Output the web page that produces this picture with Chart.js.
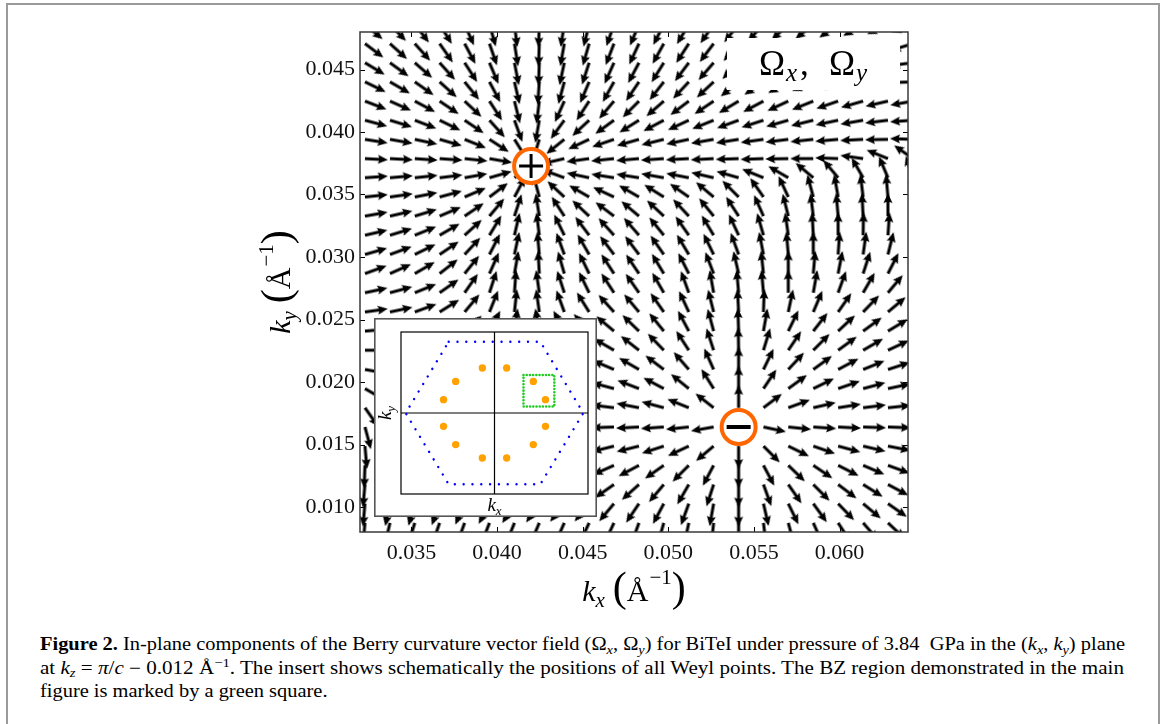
<!DOCTYPE html>
<html>
<head>
<meta charset="utf-8">
<title>Berry curvature vector field</title>
<script src="https://cdn.jsdelivr.net/npm/chart.js@4.4.1/dist/chart.umd.min.js"></script>
<style>
  html, body { margin: 0; padding: 0; background: #fff; }
  body { width: 1166px; height: 724px; position: relative; overflow: hidden; font-family: "Liberation Serif", serif; }
  #frame { position: absolute; left: 6px; top: 3px; width: 1150px; height: 760px; border: 2px solid #9a9a9a; border-bottom: none; }
  #main { position: absolute; left: 0; top: 0; }
  #inset { position: absolute; left: 374px; top: 318px; }
  #caption { position: absolute; left: 40px; top: 633px; font-size: 18px; line-height: 23.5px; color: #000; }
  #caption .ln { white-space: nowrap; transform-origin: 0 0; display: inline-block; }
  #caption sub, #caption sup { font-size: 70%; line-height: 0; position: relative; vertical-align: baseline; }
  #caption sub { top: 0.3em; }
  #caption sup { top: -0.5em; }
</style>
</head>
<body>
<div id="frame"></div>
<canvas id="main" width="1166" height="620"></canvas>
<canvas id="inset" width="223" height="199"></canvas>
<div id="caption">
  <div class="ln"><b>Figure 2.</b> In-plane components of the Berry curvature vector field (Ω<sub><i>x</i></sub>, Ω<sub><i>y</i></sub>) for BiTeI under pressure of 3.84&nbsp; GPa in the (<i>k</i><sub><i>x</i></sub>, <i>k</i><sub><i>y</i></sub>) plane</div><br>
  <div class="ln">at <i>k</i><sub><i>z</i></sub> = <i>π</i>/<i>c</i> − 0.012 Å<sup>−1</sup>. The insert shows schematically the positions of all Weyl points. The BZ region demonstrated in the main</div><br>
  <div class="ln">figure is marked by a green square.</div>
</div>
<script>
// grid of the quiver plot (arrow tails), in 1/Angstrom
const KX = [0.03229, 0.03375, 0.03520, 0.03665, 0.03811, 0.03956, 0.04102, 0.04247, 0.04393, 0.04538, 0.04683, 0.04829,
            0.04974, 0.05120, 0.05265, 0.05411, 0.05556, 0.05701, 0.05847, 0.05992, 0.06138, 0.06283, 0.06429];
const KY = [0.04861, 0.04707, 0.04554, 0.04401, 0.04247, 0.04094, 0.03941, 0.03787, 0.03634, 0.03480, 0.03327, 0.03174,
            0.03020, 0.02867, 0.02714, 0.02560, 0.02407, 0.02254, 0.02100, 0.01947, 0.01794, 0.01640, 0.01487, 0.01333,
            0.01180, 0.01027, 0.00873];

// direction of (Omega_x, Omega_y) in degrees, one row per KY
const ANG = [
  [-40,-46,-52,-58,-66,-74,-83,-92,-99,-104,-109,-113,-117,-121,-125,-129,-133,-137,-141,-145,-150,-155,-160],
  [-37,-42,-48,-55,-62,-71,-81,-92,-100,-106,-111,-115,-119,-123,-127,-131,-135,-139,-143,-148,-153,-158,-163],
  [-31,-36,-41,-48,-57,-67,-79,-92,-102,-108,-114,-118,-122,-127,-131,-135,-140,-145,-151,-157,-163,-169,-173],
  [-26,-30,-35,-42,-51,-62,-77,-94,-105,-113,-119,-124,-128,-133,-137,-141,-146,-151,-157,-163,-169,-175,-178],
  [-21,-24,-28,-34,-43,-57,-76,-97,-114,-123,-130,-135,-139,-143,-146,-149,-152,-155,-158,-161,-164,-167,-170],
  [-15,-17,-21,-26,-34,-48,-70,-100,-126,-137,-144,-148,-152,-155,-158,-160,-162,-164,-166,-168,-170,-173,-176],
  [-9,-10,-12,-16,-22,-33,-58,-107,-141,-155,-161,-164,-166,-168,-170,-171,-172,-173,-174,-175,-177,-179,178],
  [-3,-3,-4,-4,-6,-10,-24,-132,-167,-172,-174,-175,-176,-177,-177,-178,-178,-179,180,178,172,158,145],
  [4,5,6,7,10,16,35,125,160,168,171,171,170,169,167,164,158,150,140,130,120,113,108],
  [6,8,11,15,23,37,62,105,137,150,155,150,148,145,140,135,125,115,105,100,97,95,94],
  [10,13,17,23,34,50,72,99,123,137,143,140,137,133,129,123,114,104,97,95,93,90,88],
  [13,17,22,30,42,59,77,97,116,127,132,131,129,125,121,115,106,98,93,90,89,86,83],
  [16,20,26,34,47,63,78,95,110,120,127,127,125,121,116,110,101,95,90,86,82,76,70],
  [20,24,30,38,51,66,80,93,106,116,123,124,121,117,111,103,96,90,85,79,72,63,55],
  [12,15,22,35,55,72,86,98,108,116,123,125,120,110,100,95,95,90,80,70,60,50,45],
  [8,12,20,32,50,68,84,98,110,122,132,130,125,115,104,93,88,78,67,55,46,40,36],
  [5,8,14,25,42,62,82,100,118,132,140,136,129,118,105,92,80,64,52,43,36,31,28],
  [0,3,8,18,35,58,82,105,127,142,150,142,134,123,108,91,73,56,45,36,30,25,22],
  [-10,-6,0,10,25,50,85,115,140,152,157,150,143,131,114,90,64,47,36,28,22,18,15],
  [-30,-25,-18,-5,15,50,100,140,158,163,165,159,152,141,122,90,56,36,26,19,15,12,10],
  [-55,-52,-48,-40,-20,20,150,170,175,175,173,169,165,158,142,90,37,20,13,9,7,6,5],
  [-75,-78,-82,-90,-110,-140,-165,-172,-175,-177,-178,-177,-176,-174,-170,null,-12,-6,-4,-3,-2,-2,-2],
  [-85,-90,-95,-105,-120,-140,-155,-163,-167,-168,-166,-166,-162,-155,-140,-90,-45,-26,-19,-15,-13,-11,-10],
  [-92,-97,-102,-110,-120,-132,-142,-150,-154,-156,-156,-152,-145,-135,-118,-90,-62,-44,-34,-27,-23,-20,-18],
  [-95,-100,-105,-110,-117,-125,-132,-138,-142,-144,-145,-138,-130,-120,-108,-90,-70,-55,-45,-37,-32,-28,-25],
  [-95,-102,-106,-110,-114,-118,-122,-125,-128,-129,-130,-124,-118,-110,-100,-90,-77,-64,-54,-46,-40,-35,-32],
  [-95,-103,-107,-109,-110,-111,-112,-113,-114,-115,-115,-110,-106,-102,-96,-90,-83,-75,-66,-57,-49,-43,-38]
];

const X_TICKS = [0.035, 0.040, 0.045, 0.050, 0.055, 0.060];
const Y_TICKS = [0.010, 0.015, 0.020, 0.025, 0.030, 0.035, 0.040, 0.045];

// the two Weyl points of the main panel
const WEYL_PLUS = { x: 0.04199, y: 0.03728 };
const WEYL_MINUS = { x: 0.05411, y: 0.01640 };

// insert (schematic units)
const INSET_WEYL_X = [-0.13, 0.13, -0.415, 0.415, -0.545, 0.545, -0.545, 0.545, -0.415, 0.415, -0.13, 0.13];
const INSET_WEYL_Y = [0.555, 0.555, 0.39, 0.39, 0.165, 0.165, -0.165, -0.165, -0.39, -0.39, -0.555, -0.555];
const HEX_X = [-0.49, 0.49, 0.95, 0.49, -0.49, -0.95, -0.49];
const HEX_Y = [0.88, 0.88, 0, -0.88, -0.88, 0, 0.88];
const SQUARE_X = [0.31, 0.64, 0.64, 0.31, 0.31];
const SQUARE_Y = [0.47, 0.47, 0.08, 0.08, 0.47];

const SERIF = '"Liberation Serif", "Times New Roman", serif';

// arrow sprite with its tail at the centre of the canvas (quiver pivot = tail)
function arrowSprite(len, shaft, headLen, headHalf, headAxis) {
    const c = document.createElement('canvas');
    c.width = 2 * len + 4;
    c.height = 14;
    const g = c.getContext('2d');
    const x0 = c.width / 2, y0 = c.height / 2, s = shaft / 2;
    g.fillStyle = '#000';
    g.beginPath();
    g.moveTo(x0, y0 - s);
    g.lineTo(x0 + len - headAxis, y0 - s);
    g.lineTo(x0 + len - headLen, y0 - headHalf);
    g.lineTo(x0 + len, y0);
    g.lineTo(x0 + len - headLen, y0 + headHalf);
    g.lineTo(x0 + len - headAxis, y0 + s);
    g.lineTo(x0, y0 + s);
    g.closePath();
    g.fill();
    return c;
}

// pieces of text with their own font and baseline shift, centred on x
function drawMath(ctx, parts, x, y) {
    let w = 0;
    parts.forEach(p => { ctx.font = p.f; p.w = ctx.measureText(p.t).width + (p.g || 0); w += p.w; });
    let cx = x - w / 2;
    parts.forEach(p => { ctx.font = p.f; ctx.fillText(p.t, cx, y + (p.dy || 0)); cx += p.w; });
}

function axisTitle(sub) {
    return [
        { t: 'k', f: 'italic 30px ' + SERIF },
        { t: sub, f: 'italic 21px ' + SERIF, dy: 6, g: 8 },
        { t: '(', f: '42px ' + SERIF },
        { t: 'Å', f: '30px ' + SERIF, g: 1 },
        { t: '−1', f: '21px ' + SERIF, dy: -17 },
        { t: ')', f: '42px ' + SERIF }
    ];
}

const mainDecor = {
    id: 'mainDecor',
    afterDatasetsDraw(chart) {
        const { ctx, chartArea: a, scales: { x, y } } = chart;
        ctx.save();
        // inward ticks on all four sides
        ctx.strokeStyle = '#000';
        ctx.lineWidth = 1;
        ctx.beginPath();
        X_TICKS.forEach(v => {
            const px = Math.round(x.getPixelForValue(v)) + 0.5;
            ctx.moveTo(px, a.bottom); ctx.lineTo(px, a.bottom - 5);
            ctx.moveTo(px, a.top); ctx.lineTo(px, a.top + 5);
        });
        Y_TICKS.forEach(v => {
            const py = Math.round(y.getPixelForValue(v)) + 0.5;
            ctx.moveTo(a.left, py); ctx.lineTo(a.left + 5, py);
            ctx.moveTo(a.right, py); ctx.lineTo(a.right - 5, py);
        });
        ctx.stroke();
        ctx.strokeStyle = '#3a3a3a';
        ctx.lineWidth = 1.5;
        ctx.strokeRect(a.left, a.top, a.right - a.left, a.bottom - a.top);

        // label box in the upper right corner
        ctx.fillStyle = '#fff';
        ctx.fillRect(a.right - 181, a.top + 6, 173, 52);
        ctx.fillStyle = '#000';
        ctx.textBaseline = 'alphabetic';
        ctx.font = '35px ' + SERIF;
        ctx.fillText('Ω', a.right - 149, a.top + 43);
        ctx.fillText(',', a.right - 108, a.top + 43);
        ctx.fillText('Ω', a.right - 79, a.top + 43);
        ctx.font = 'italic 25px ' + SERIF;
        ctx.fillText('x', a.right - 122, a.top + 49);
        ctx.fillText('y', a.right - 52, a.top + 49);
        ctx.restore();
    },
    afterDraw(chart) {
        const { ctx, chartArea: a } = chart;
        ctx.save();
        ctx.fillStyle = '#000';
        ctx.textBaseline = 'alphabetic';
        drawMath(ctx, axisTitle('x'), (a.left + a.right) / 2, 601);
        ctx.translate(290, (a.top + a.bottom) / 2);
        ctx.rotate(-Math.PI / 2);
        drawMath(ctx, axisTitle('y'), 0, 0);
        ctx.restore();
    }
};

const field = [];
KY.forEach((ky, j) => {
    KX.forEach((kx, i) => {
        const a = ANG[j][i];
        if (a !== null) field.push({ x: kx, y: ky, a: a });
    });
});

const arrow = arrowSprite(23, 3, 10, 4.6, 8.8);

const tickFont = { family: SERIF, size: 22 };

new Chart(document.getElementById('main'), {
    type: 'scatter',
    data: {
        datasets: [
            {
                label: 'signs',
                data: [WEYL_PLUS, WEYL_MINUS],
                pointStyle: ['cross', 'line'],
                pointRadius: 12,
                pointHoverRadius: 12,
                pointBorderWidth: [3, 4],
                pointBorderColor: '#000'
            },
            {
                label: 'Weyl points',
                data: [WEYL_PLUS, WEYL_MINUS],
                pointStyle: 'circle',
                pointRadius: 17,
                pointHoverRadius: 17,
                pointBorderWidth: 4,
                pointBorderColor: '#ff6600',
                pointBackgroundColor: '#fff'
            },
            {
                label: 'Omega field',
                data: field,
                pointStyle: arrow,
                pointRadius: 12,
                pointHoverRadius: 12,
                pointBorderWidth: 0,
                pointRotation: c => (c.raw ? -c.raw.a : 0),
                clip: 0
            }
        ]
    },
    options: {
        responsive: false,
        animation: false,
        events: [],
        layout: { padding: { left: 0, top: 32, right: 258, bottom: 0 } },
        plugins: { legend: { display: false }, tooltip: { enabled: false } },
        scales: {
            x: {
                type: 'linear', min: 0.032, max: 0.064,
                afterBuildTicks: s => { s.ticks = X_TICKS.map(v => ({ value: v })); },
                afterFit: s => { s.height = 88; },
                grid: { display: false, drawTicks: false },
                border: { display: false },
                ticks: { padding: 8, font: tickFont, color: '#111', maxRotation: 0, autoSkip: false,
                         callback: v => v.toFixed(3) }
            },
            y: {
                type: 'linear', min: 0.008, max: 0.048,
                afterBuildTicks: s => { s.ticks = Y_TICKS.map(v => ({ value: v })); },
                afterFit: s => { s.width = 360; },
                grid: { display: false, drawTicks: false },
                border: { display: false },
                ticks: { padding: 5, font: tickFont, color: '#111', autoSkip: false,
                         callback: v => v.toFixed(3) }
            }
        }
    },
    plugins: [mainDecor]
});

/* ------------------------- insert ------------------------- */
const pts = (xs, ys) => xs.map((x, i) => ({ x: x, y: ys[i] }));

const insetDecor = {
    id: 'insetDecor',
    beforeDraw(chart) {
        const { ctx, width, height } = chart;
        ctx.save();
        ctx.fillStyle = '#fff';
        ctx.fillRect(0, 0, width, height);
        ctx.strokeStyle = '#555';
        ctx.lineWidth = 1.6;
        ctx.strokeRect(0.8, 0.8, width - 1.6, height - 1.6);
        ctx.restore();
    },
    afterDraw(chart) {
        const { ctx, chartArea: a } = chart;
        ctx.save();
        ctx.strokeStyle = '#000';
        ctx.lineWidth = 1.2;
        ctx.strokeRect(a.left, a.top, a.right - a.left, a.bottom - a.top);
        ctx.fillStyle = '#000';
        const lab = s => [
            { t: 'k', f: 'italic 19px ' + SERIF },
            { t: s, f: 'italic 13px ' + SERIF, dy: 4 }
        ];
        drawMath(ctx, lab('x'), (a.left + a.right) / 2, a.bottom + 17);
        ctx.translate(a.left - 10, (a.top + a.bottom) / 2);
        ctx.rotate(-Math.PI / 2);
        drawMath(ctx, lab('y'), 0, 0);
        ctx.restore();
    }
};

new Chart(document.getElementById('inset'), {
    type: 'scatter',
    data: {
        datasets: [
            { label: 'Weyl points', data: pts(INSET_WEYL_X, INSET_WEYL_Y), pointRadius: 3.7, pointHoverRadius: 3.7,
              pointBackgroundColor: '#ffa200', pointBorderWidth: 0 },
            { label: 'main figure region', data: pts(SQUARE_X, SQUARE_Y), showLine: true, pointRadius: 0,
              borderColor: '#22cc22', borderWidth: 2.6, borderDash: [0.01, 3.2], borderCapStyle: 'round' },
            { label: 'BZ', data: pts(HEX_X, HEX_Y), showLine: true, pointRadius: 0,
              borderColor: '#0000ff', borderWidth: 2.4, borderDash: [0.01, 8.8], borderCapStyle: 'round' },
            { label: 'kx axis', data: pts([-1, 1], [0, 0]), showLine: true, pointRadius: 0,
              borderColor: '#000', borderWidth: 1.2 },
            { label: 'ky axis', data: pts([0, 0], [-1, 1]), showLine: true, pointRadius: 0,
              borderColor: '#000', borderWidth: 1.2 }
        ]
    },
    options: {
        responsive: false,
        animation: false,
        events: [],
        layout: { padding: { left: 27, top: 14, right: 9, bottom: 23 } },
        plugins: { legend: { display: false }, tooltip: { enabled: false } },
        scales: {
            x: { type: 'linear', min: -1, max: 1, display: false },
            y: { type: 'linear', min: -1, max: 1, display: false }
        }
    },
    plugins: [insetDecor]
});

/* caption lines stretched to the justified width of the original */
const lines = document.querySelectorAll('#caption .ln');
const targets = [1085, 1084];
let k1 = 1;
lines.forEach((el, k) => {
    const w = el.getBoundingClientRect().width;
    const s = k < 2 ? targets[k] / w : k1;
    if (k === 0) k1 = s;
    el.style.transform = 'scaleX(' + s.toFixed(4) + ')';
});
</script>
</body>
</html>
